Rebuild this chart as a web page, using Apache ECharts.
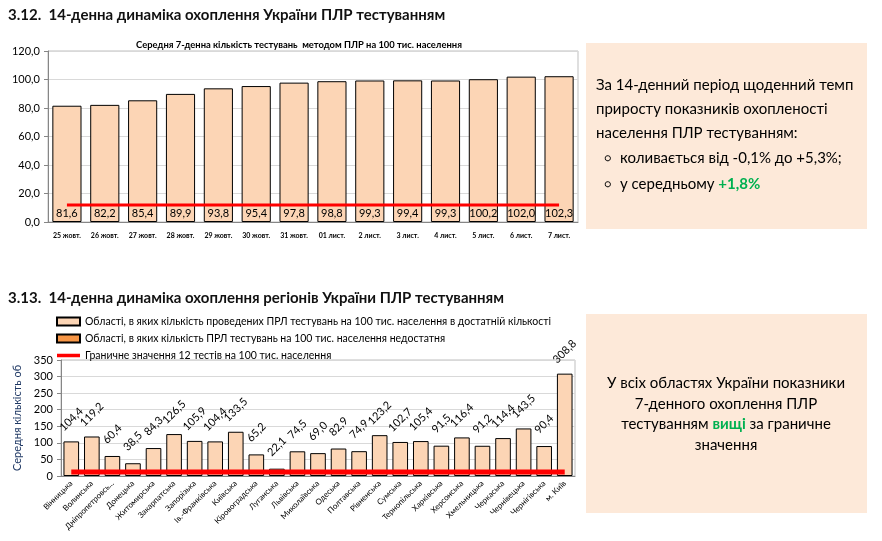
<!DOCTYPE html>
<html><head><meta charset="utf-8">
<script src="https://cdn.jsdelivr.net/npm/echarts@6/dist/echarts.min.js"></script>
<style>html,body{margin:0;padding:0;background:#fff}#c{width:882px;height:541px}</style>
</head><body><div id="c"></div>
<script>
// ---- data: chart 3.12 ----
const datesTop = ['25 жовт.','26 жовт.','27 жовт.','28 жовт.','29 жовт.','30 жовт.','31 жовт.','01 лист.','2 лист.','3 лист.','4 лист.','5 лист.','6 лист.','7 лист.'];
const valuesTop = [81.6, 82.2, 85.4, 89.9, 93.8, 95.4, 97.8, 98.8, 99.3, 99.4, 99.3, 100.2, 102.0, 102.3];
const thresholdTop = [12,12,12,12,12,12,12,12,12,12,12,12,12,12];
// ---- data: chart 3.13 ----
const regions = ['Вінницька','Волинська','Дніпропетровсь...','Донецька','Житомирська','Закарпатська','Запорізька','Ів.-Франківська','Київська','Кіровоградська','Луганська','Львівська','Миколаївська','Одеська','Полтавська','Рівненська','Сумська','Тернопільська','Харківська','Херсонська','Хмельницька','Черкаська','Чернівецька','Чернігівська','м. Київ'];
const valuesRegions = [104.4, 119.2, 60.4, 38.5, 84.3, 126.5, 105.9, 104.4, 133.5, 65.2, 22.1, 74.5, 69.0, 82.9, 74.9, 123.2, 102.7, 105.4, 91.5, 116.4, 91.2, 114.4, 143.5, 90.4, 308.8];
const valuesInsufficient = [];
const thresholdRegions = [12,12,12,12,12,12,12,12,12,12,12,12,12,12,12,12,12,12,12,12,12,12,12,12,12];
// ---- names / texts ----
const seriesNames = [
  'Області, в яких кількість проведених ПРЛ тестувань на 100 тис. населення в достатній кількості',
  'Області, в яких кількість ПРЛ тестувань на 100 тис. населення недостатня',
  'Граничне значення 12 тестів на 100 тис. населення'
];
const heading1 = '3.12.  14-денна динаміка охоплення України ПЛР тестуванням';
const heading2 = '3.13.  14-денна динаміка охоплення регіонів України ПЛР тестуванням';
const chartTitleTop = 'Середня 7-денна кількість тестувань  методом ПЛР на 100 тис. населення';
const yNameBottom = 'Середня кількість об';

const F = 'Lato, "Open Sans", sans-serif';
const comma1 = v => Number(v).toFixed(1).replace('.', ',');
const axisGray = '#868686';
const gridGray = '#d9d9d9';
const peach = '#FCD5B5';
const green = '#00B050';

const chart = echarts.init(document.getElementById('c'), null, {renderer: 'canvas'});
chart.setOption({
  animation: false,
  textStyle: {fontFamily: F},
  grid: [
    {left: 48, top: 51, width: 530, height: 171, show: true, borderColor: '#bfbfbf', borderWidth: 1},
    {left: 61, top: 360, width: 514, height: 116, show: true, borderColor: '#bfbfbf', borderWidth: 1}
  ],
  legend: {
    orient: 'vertical', left: 56, top: 316, itemWidth: 23, itemHeight: 8, itemGap: 6, padding: 0,
    symbolKeepAspect: true,
    textStyle: {fontSize: 10.5, color: '#000', fontFamily: F},
    data: [
      {name: seriesNames[0], icon: 'rect'},
      {name: seriesNames[1], icon: 'rect'},
      {name: seriesNames[2], icon: 'path://M0,0H23V3.5H0Z', itemStyle: {color: '#FF0000'}}
    ]
  },
  xAxis: [
    {type: 'category', gridIndex: 0, data: datesTop,
     axisLine: {lineStyle: {color: axisGray}}, axisTick: {length: 4, lineStyle: {color: axisGray}},
     axisLabel: {interval: 0, fontSize: 7, fontWeight: 'bold', color: '#000', margin: 10}},
    {type: 'category', gridIndex: 1, data: regions,
     axisLine: {lineStyle: {color: axisGray}}, axisTick: {length: 4, lineStyle: {color: axisGray}},
     axisLabel: {interval: 0, rotate: 45, fontSize: 8, color: '#000', margin: 6}}
  ],
  yAxis: [
    {type: 'value', gridIndex: 0, min: 0, max: 120, interval: 20,
     axisLine: {show: true, lineStyle: {color: axisGray}}, axisTick: {show: true, length: 4, lineStyle: {color: axisGray}},
     splitLine: {lineStyle: {color: gridGray}},
     axisLabel: {formatter: comma1, fontSize: 11, color: '#000', margin: 8}},
    {type: 'value', gridIndex: 1, min: 0, max: 350, interval: 50,
     axisLine: {show: true, lineStyle: {color: axisGray}}, axisTick: {show: true, length: 4, lineStyle: {color: axisGray}},
     splitLine: {lineStyle: {color: gridGray}},
     axisLabel: {fontSize: 11, color: '#000', margin: 8},
     name: yNameBottom, nameLocation: 'middle', nameGap: 36,
     nameTextStyle: {color: '#1F3864', fontSize: 11, fontFamily: F}}
  ],
  series: [
    {type: 'bar', xAxisIndex: 0, yAxisIndex: 0, data: valuesTop, barCategoryGap: '23%',
     itemStyle: {color: peach, borderColor: '#000', borderWidth: 1},
     label: {show: true, position: 'insideBottom', distance: 3, fontSize: 11, color: '#000', formatter: p => comma1(p.value)}},
    {type: 'line', xAxisIndex: 0, yAxisIndex: 0, data: thresholdTop, symbol: 'none', z: 5,
     lineStyle: {color: '#FF0000', width: 3}, itemStyle: {color: '#FF0000'}},
    {name: seriesNames[0], type: 'bar', xAxisIndex: 1, yAxisIndex: 1, data: valuesRegions, stack: 'r', barCategoryGap: '24%',
     itemStyle: {color: peach, borderColor: '#000', borderWidth: 1},
     label: {show: true, position: 'top', rotate: 45, align: 'center', verticalAlign: 'middle', distance: 22,
             fontSize: 11, color: '#000', formatter: p => comma1(p.value)}},
    {name: seriesNames[1], type: 'bar', xAxisIndex: 1, yAxisIndex: 1, data: valuesInsufficient, stack: 'r',
     itemStyle: {color: '#F79646', borderColor: '#000', borderWidth: 1}},
    {name: seriesNames[2], type: 'line', xAxisIndex: 1, yAxisIndex: 1, data: thresholdRegions, symbol: 'none', z: 5,
     lineStyle: {color: '#FF0000', width: 5}, itemStyle: {color: '#FF0000'}}
  ],
  graphic: [
    {type: 'text', x: 8, y: 15, style: {text: heading1, font: 'bold 15px ' + F, fill: '#111', verticalAlign: 'middle'}},
    {type: 'text', x: 8, y: 298, style: {text: heading2, font: 'bold 15px ' + F, fill: '#111', verticalAlign: 'middle'}},
    {type: 'text', x: 299, y: 45, style: {text: chartTitleTop, font: 'bold 9.4px ' + F, fill: '#000', align: 'center', verticalAlign: 'middle'}},
    {type: 'rect', shape: {x: 586, y: 43, width: 281, height: 186}, style: {fill: '#FDE9D9'}, z: -1},
    {type: 'rect', shape: {x: 586, y: 314, width: 281, height: 199}, style: {fill: '#FDE9D9'}, z: -1},
    {type: 'text', x: 596, y: 85, style: {text: 'За 14-денний період щоденний темп', font: '15px ' + F, fill: '#000', verticalAlign: 'middle'}},
    {type: 'text', x: 596, y: 109, style: {text: 'приросту показників охопленості', font: '15px ' + F, fill: '#000', verticalAlign: 'middle'}},
    {type: 'text', x: 596, y: 133, style: {text: 'населення ПЛР тестуванням:', font: '15px ' + F, fill: '#000', verticalAlign: 'middle'}},
    {type: 'text', x: 604, y: 158, style: {text: '○', font: '11px ' + F, fill: '#000', verticalAlign: 'middle'}},
    {type: 'text', x: 620, y: 158, style: {text: 'коливається від -0,1% до +5,3%;', font: '15px ' + F, fill: '#000', verticalAlign: 'middle'}},
    {type: 'text', x: 604, y: 184, style: {text: '○', font: '11px ' + F, fill: '#000', verticalAlign: 'middle'}},
    {type: 'text', x: 620, y: 184, style: {text: '{n|у середньому }{g|+1,8%}', verticalAlign: 'middle',
      rich: {n: {font: '15px ' + F, fill: '#000'}, g: {font: 'bold 15px ' + F, fill: green}}}},
    {type: 'text', x: 726, y: 383, style: {text: 'У всіх областях України показники', font: '15px ' + F, fill: '#000', align: 'center', verticalAlign: 'middle'}},
    {type: 'text', x: 726, y: 404, style: {text: '7-денного охоплення ПЛР', font: '15px ' + F, fill: '#000', align: 'center', verticalAlign: 'middle'}},
    {type: 'text', x: 726, y: 424, style: {text: '{n|тестуванням }{g|вищі}{n| за граничне}', align: 'center', verticalAlign: 'middle',
      rich: {n: {font: '15px ' + F, fill: '#000'}, g: {font: 'bold 15px ' + F, fill: green}}}},
    {type: 'text', x: 726, y: 445, style: {text: 'значення', font: '15px ' + F, fill: '#000', align: 'center', verticalAlign: 'middle'}}
  ]
});
</script></body></html>
